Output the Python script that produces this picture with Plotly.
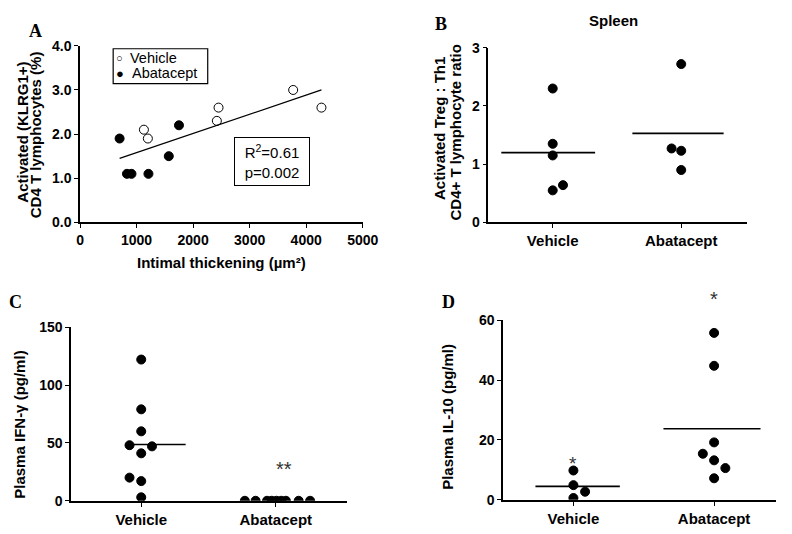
import numpy as np
import plotly.graph_objects as go

# ---- Panel A: intimal thickening vs activated CD4 T cells ----
veh_thick = [1130, 1200, 2420, 2450, 3770, 4270]
veh_klrg = [2.1, 1.9, 2.3, 2.6, 3.0, 2.6]
aba_thick = [700, 830, 910, 1210, 1570, 1750]
aba_klrg = [1.9, 1.1, 1.1, 1.1, 1.5, 2.2]
a_xticks = [0, 1000, 2000, 3000, 4000, 5000]
a_yticks = [0.0, 1.0, 2.0, 3.0, 4.0]

# ---- Panel B: spleen Treg:Th1 ratio ----
b_vehicle = [2.3, 1.35, 1.15, 0.55, 0.64]
b_vehicle_jit = [0, 0, 0, 0, 0.08]
b_abatacept = [2.72, 1.27, 1.23, 0.9]
b_abatacept_jit = [0, -0.075, 0, 0]
b_yticks = [0, 1, 2, 3]

# ---- Panel C: plasma IFN-gamma ----
c_vehicle = [122, 79, 60, 48, 47, 41, 20, 17, 3]
c_vehicle_jit = [0, 0, 0, -0.087, 0.08, 0, -0.087, 0, 0]
c_abatacept = [0, 0, 0, 0, 0, 0, 0, 0, 0]
c_abatacept_jit = [-0.23, -0.15, -0.065, -0.03, 0.005, 0.04, 0.075, 0.17, 0.255]
c_yticks = [0, 50, 100, 150]

# ---- Panel D: plasma IL-10 ----
d_vehicle = [9.8, 4.9, 2.7, 0.6]
d_vehicle_jit = [0, 0, 0.083, 0]
d_abatacept = [55.8, 44.8, 19.2, 15.4, 13.2, 10.6, 7.2]
d_abatacept_jit = [0, 0, 0, -0.08, 0, 0.08, 0]
d_yticks = [0, 20, 40, 60]

groups = ["Vehicle", "Abatacept"]

FONT = "Liberation Sans, Arial, sans-serif"
SERIF = "Liberation Serif, Times New Roman, serif"
W, H = 792, 534

fig = go.Figure()

def px(x):
    return x / W

def py(y):
    return 1 - y / H

def b(s):
    return "<b>" + s + "</b>"

dot = dict(color="black", size=9, line=dict(color="black", width=1))

# Panel A scatter
fig.add_trace(go.Scatter(x=veh_thick, y=veh_klrg, mode="markers", name="Vehicle",
                         marker=dict(symbol="circle-open", color="black", size=9,
                                     line=dict(width=1)),
                         xaxis="x", yaxis="y", showlegend=False))
fig.add_trace(go.Scatter(x=aba_thick, y=aba_klrg, mode="markers", name="Abatacept",
                         marker=dict(symbol="circle", **dot),
                         xaxis="x", yaxis="y", showlegend=False))
all_x = np.array(veh_thick + aba_thick, dtype=float)
all_y = np.array(veh_klrg + aba_klrg, dtype=float)
slope, icpt = np.polyfit(all_x, all_y, 1)
fx = np.array([all_x.min(), all_x.max()])
fig.add_trace(go.Scatter(x=fx, y=slope * fx + icpt, mode="lines",
                         line=dict(color="black", width=1.3),
                         xaxis="x", yaxis="y", showlegend=False))

# Dot plots with mean bars
def dotplot(vals, jit, pos, axx, axy, bar_lo, bar_hi):
    fig.add_trace(go.Scatter(x=[pos + j for j in jit], y=vals, mode="markers",
                             marker=dot, xaxis=axx, yaxis=axy, showlegend=False))
    if bar_hi > bar_lo:
        m = float(np.mean(vals))
        fig.add_trace(go.Scatter(x=[pos + bar_lo, pos + bar_hi], y=[m, m], mode="lines",
                                 line=dict(color="black", width=1.6),
                                 xaxis=axx, yaxis=axy, showlegend=False))

dotplot(b_vehicle, b_vehicle_jit, 1, "x2", "y2", -0.40, 0.33)
dotplot(b_abatacept, b_abatacept_jit, 2, "x2", "y2", -0.38, 0.33)
dotplot(c_vehicle, c_vehicle_jit, 1, "x3", "y3", -0.12, 0.33)
dotplot(c_abatacept, c_abatacept_jit, 2, "x3", "y3", 0, 0)
dotplot(d_vehicle, d_vehicle_jit, 1, "x4", "y4", -0.27, 0.33)
dotplot(d_abatacept, d_abatacept_jit, 2, "x4", "y4", -0.36, 0.33)

tickfont = dict(family=FONT, size=14, color="black")
catfont = dict(family=FONT, size=15, color="black")
axline = dict(showline=True, linecolor="black", linewidth=1.6, ticks="outside",
              ticklen=4, tickwidth=1.4, tickcolor="black", showgrid=False,
              zeroline=False, fixedrange=True)

def num_axis(vals, fmt="{:g}"):
    return dict(tickvals=vals, ticktext=[b(fmt.format(v)) for v in vals])

layout = dict(
    width=W, height=H, margin=dict(l=0, r=0, t=0, b=0),
    paper_bgcolor="white", plot_bgcolor="white", showlegend=False,
    xaxis=dict(domain=[px(78), px(368)], range=[0, 5000], **num_axis(a_xticks),
               tickfont=tickfont, anchor="y", **axline),
    yaxis=dict(domain=[py(221), py(39)], range=[0, 4], **num_axis(a_yticks, "{:.1f}"),
               tickfont=tickfont, anchor="x", **axline),
    xaxis2=dict(domain=[px(497), px(762)], range=[0.5, 2.51], tickvals=[1, 2],
                ticktext=[b(g) for g in groups], tickfont=catfont, anchor="y2", **axline),
    yaxis2=dict(domain=[py(221), py(41)], range=[0, 3], **num_axis(b_yticks),
                tickfont=tickfont, anchor="x2", **axline),
    xaxis3=dict(domain=[px(69), px(352)], range=[0.48, 2.53], tickvals=[1, 2],
                ticktext=[b(g) for g in groups], tickfont=catfont, anchor="y3", **axline),
    yaxis3=dict(domain=[py(508), py(329)], range=[0, 150], **num_axis(c_yticks),
                tickfont=tickfont, anchor="x3", **axline),
    xaxis4=dict(domain=[px(512), 1.0], range=[0.5, 2.44], tickvals=[1, 2],
                ticktext=[b(g) for g in groups], tickfont=catfont, anchor="y4", **axline),
    yaxis4=dict(domain=[py(507), py(322)], range=[0, 60], **num_axis(d_yticks),
                tickfont=tickfont, anchor="x4", **axline),
)
fig.update_layout(**layout)

ann = []
def text(x, y, s, size=15, angle=0, family=FONT, bold=True, xanchor="center", color="black"):
    ann.append(dict(x=x, y=y, xref="paper", yref="paper", text=b(s) if bold else s,
                    showarrow=False, textangle=angle,
                    font=dict(family=family, size=size, color=color),
                    xanchor=xanchor, yanchor="middle"))

# panel letters
text(px(32), py(24), "A", size=18, family=SERIF)
text(px(448), py(16), "B", size=18, family=SERIF)
text(px(12), py(303), "C", size=18, family=SERIF)
text(px(456), py(303), "D", size=18, family=SERIF)

# titles and axis labels
text(px(625), py(13), "Spleen", size=15)
text(px(223), py(262), "Intimal thickening (µm²)", size=15)
text(px(19), py(128), "Activated (KLRG1+)", size=15, angle=-90)
text(px(32), py(131), "CD4 T lymphocytes (%)", size=15, angle=-90)
text(px(447), py(124), "Activated Treg : Th1", size=15, angle=-90)
text(px(463), py(128), "CD4+ T lymphocyte ratio", size=15, angle=-90)
text(px(15), py(430), "Plasma IFN-γ (pg/ml)", size=15, angle=-90)
text(px(455), py(422), "Plasma IL-10 (pg/ml)", size=15, angle=-90)

# legend box for panel A
fig.add_shape(type="rect", xref="paper", yref="paper",
              x0=px(112), x1=px(209), y0=py(78), y1=py(42),
              line=dict(color="black", width=1.2), fillcolor="white", layer="below")
text(px(113), py(52), "○", size=11, bold=False, xanchor="left")
text(px(127), py(52), "Vehicle", size=14.5, bold=False, xanchor="left")
text(px(113), py(67.5), "●", size=13, bold=False, xanchor="left")
text(px(129), py(67.5), "Abatacept", size=14.5, bold=False, xanchor="left")

# regression statistics box
ann.append(dict(x=3400, y=1.38, xref="x", yref="y", showarrow=False,
                text="R<sup>2</sup>=0.61<br>p=0.002", align="center", width=66,
                font=dict(family=FONT, size=15, color="black"),
                bordercolor="black", borderwidth=1, borderpad=4, bgcolor="white"))

# significance markers
text(px(287), py(475), "**", size=20, bold=False, color="#333")
text(px(584), py(470), "*", size=19, bold=False, color="#333")
text(px(728), py(300), "*", size=20, bold=False, color="#333")

fig.update_layout(annotations=ann)

fig.write_html("out.html")
